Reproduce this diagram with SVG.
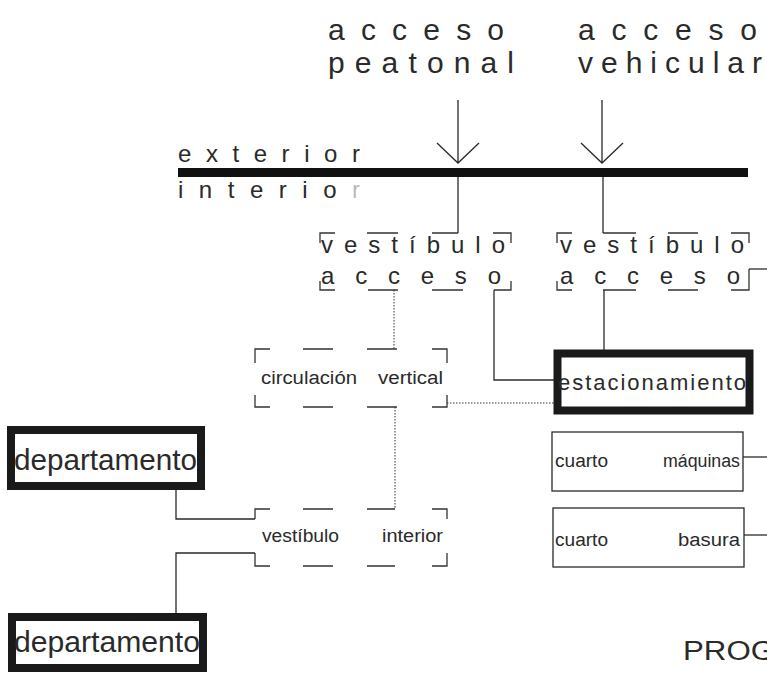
<svg xmlns="http://www.w3.org/2000/svg" width="767" height="675" viewBox="0 0 767 675">
<style>
text{font-family:"Liberation Sans",Arial,sans-serif;fill:#2a2a2a}
.big{font-size:30px}
.mid{font-size:24px}
.sm{font-size:18px}
.dep{font-size:29px}
.ln{fill:none;stroke:#2a2a2a;stroke-width:1.3}
.dash{fill:none;stroke:#333;stroke-width:1.3}
.dot{fill:none;stroke:#333;stroke-width:1;stroke-dasharray:1.5 1.5}
.thick{fill:#fff;stroke:#1a1a1a;stroke-width:8}
.thin{fill:#fff;stroke:#2a2a2a;stroke-width:1.3}
</style>
<rect width="767" height="675" fill="#fff"/>
<g id="accesos">
<text class="big" x="328" y="40" textLength="176" lengthAdjust="spacing">acceso</text>
<text class="big" x="328" y="73" textLength="186" lengthAdjust="spacing">peatonal</text>
<text class="big" x="578" y="40" textLength="179" lengthAdjust="spacing">acceso</text>
<text class="big" x="578" y="73" textLength="184" lengthAdjust="spacing">vehicular</text>
</g>
<g id="limite">
<text class="mid" x="178" y="162" textLength="182" lengthAdjust="spacing">exterior</text>
<rect x="178" y="168" width="570" height="9" fill="#111"/>
<text class="mid" x="178" y="198" textLength="182" lengthAdjust="spacing">interio<tspan fill="#bbb">r</tspan></text>
</g>
<g id="vestibulo-acceso-peatonal">
<path class="dash" d="M320,243V233H335M367,233H398M432,233H458M493,233H511V243M320,281V290H335M368,290H398M432,290H463M494,290H511V281"/>
<text class="mid" x="321" y="253" textLength="184" lengthAdjust="spacing">vestíbulo</text>
<text class="mid" x="321" y="284" textLength="180" lengthAdjust="spacing">acceso</text>
</g>
<g id="vestibulo-acceso-vehicular">
<path class="dash" d="M557,243V233H572M603,233H636M668,233H698M731,233H749V243M557,281V290H572M603,290H636M668,290H698M731,290H749V269"/>
<text class="mid" x="560" y="253" textLength="184" lengthAdjust="spacing">vestíbulo</text>
<text class="mid" x="560" y="284" textLength="180" lengthAdjust="spacing">acceso</text>
</g>
<g id="circulacion-vertical">
<path class="dash" d="M255,363V349H270M303,349H333M367,349H397M432,349H447V363M255,395V407H270M303,407H333M367,407H397M432,407H447V395"/>
<text class="sm" x="261" y="384" textLength="96" lengthAdjust="spacingAndGlyphs">circulación</text>
<text class="sm" x="378" y="384" textLength="65" lengthAdjust="spacingAndGlyphs">vertical</text>
</g>
<g id="estacionamiento">
<rect class="thick" x="557.5" y="353.5" width="192" height="57" stroke-width="7"/>
<text class="mid" x="558" y="390" textLength="188" lengthAdjust="spacing" style="font-size:22px">estacionamiento</text>
</g>
<g id="cuarto-maquinas">
<rect class="thin" x="552" y="432" width="191" height="59"/>
<text class="sm" x="555" y="467" textLength="53" lengthAdjust="spacingAndGlyphs">cuarto</text>
<text class="sm" x="663" y="467" textLength="77" lengthAdjust="spacingAndGlyphs">máquinas</text>
</g>
<g id="cuarto-basura">
<rect class="thin" x="553" y="508" width="191" height="59"/>
<text class="sm" x="555" y="546" textLength="53" lengthAdjust="spacingAndGlyphs">cuarto</text>
<text class="sm" x="678" y="546" textLength="62" lengthAdjust="spacingAndGlyphs">basura</text>
</g>
<g id="departamento-1">
<rect class="thick" x="11" y="430" width="190" height="56"/>
<text class="dep" x="14" y="470" textLength="183" lengthAdjust="spacingAndGlyphs">departamento</text>
</g>
<g id="vestibulo-interior">
<path class="dash" d="M255,519V509H270M303,509H333M367,509H395M432,509H447V519M255,553V566H270M303,566H333M367,566H395M432,566H447V553"/>
<text class="sm" x="262" y="542" textLength="77" lengthAdjust="spacingAndGlyphs">vestíbulo</text>
<text class="sm" x="382" y="542" textLength="61" lengthAdjust="spacingAndGlyphs">interior</text>
</g>
<g id="departamento-2">
<rect class="thick" x="12" y="617" width="191" height="51"/>
<text class="dep" x="14" y="652" textLength="186" lengthAdjust="spacingAndGlyphs">departamento</text>
</g>
<g id="titulo">
<text class="dep" x="683" y="660" textLength="92" lengthAdjust="spacingAndGlyphs" style="font-size:27px">PROG</text>
</g>
<g id="connectors">
<path class="ln" d="M458,100V163M437,143L458,163L479,143"/>
<path class="ln" d="M602,100V163M581,143L602,163L623,143"/>
<path class="ln" d="M458,177V233"/>
<path class="ln" d="M603,177V233"/>
<path class="ln" d="M494,290V380H554"/>
<path class="ln" d="M604,290V350"/>
<path class="ln" d="M749,269H767"/>
<path class="dot" d="M394,290V349"/>
<path class="dot" d="M447,403H554"/>
<path class="dot" d="M395,407V509"/>
<path class="ln" d="M176,490V519H255"/>
<path class="ln" d="M255,553H176V613"/>
<path class="ln" d="M743,457H767"/>
<path class="ln" d="M744,535H767"/>
</g>
</svg>
